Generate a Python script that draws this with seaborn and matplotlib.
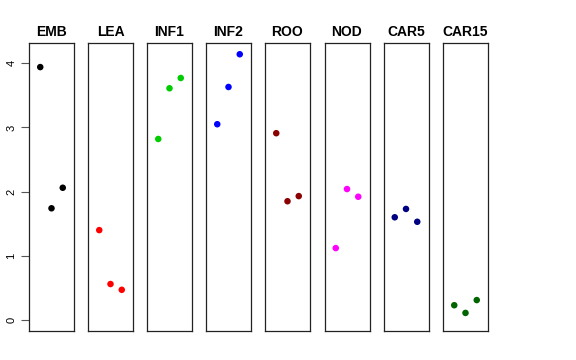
import numpy as np
import pandas as pd
import seaborn as sns
import matplotlib
matplotlib.use("Agg")
import matplotlib.pyplot as plt

sns.set_style("white")
plt.rcParams['font.family'] = ['Liberation Sans', 'DejaVu Sans']

# tissue groups and their three replicate values
groups = ["EMB", "LEA", "INF1", "INF2", "ROO", "NOD", "CAR5", "CAR15"]
emb = [3.94, 1.74, 2.06]
lea = [1.40, 0.56, 0.47]
inf1 = [2.82, 3.61, 3.77]
inf2 = [3.05, 3.63, 4.14]
roo = [2.91, 1.85, 1.93]
nod = [1.12, 2.04, 1.92]
car5 = [1.60, 1.73, 1.53]
car15 = [0.23, 0.11, 0.31]
colors = ["black", "red", "#00CD00", "blue", "#8B0000", "magenta", "#000080", "#006400"]

values = [emb, lea, inf1, inf2, roo, nod, car5, car15]
rows = []
for g, vals in zip(groups, values):
    for i, v in enumerate(vals):
        rows.append({"group": g, "rep": i + 1, "value": v})
df = pd.DataFrame(rows)

fig = plt.figure(figsize=(5.76, 3.6), dpi=100)
lefts = [29, 88, 147, 206, 265, 324.5, 383.5, 443]
for k, g in enumerate(groups):
    ax = fig.add_axes([lefts[k] / 576, 29.3 / 360, 45 / 576, 288 / 360])
    sub = df[df["group"] == g]
    sns.scatterplot(data=sub, x="rep", y="value", color=colors[k], s=22,
                    edgecolor="none", ax=ax, legend=False)
    ax.set_xlim(0, 4)
    ax.set_ylim(-0.167, 4.32)
    ax.set_xticks([])
    ax.set_xlabel("")
    ax.set_ylabel("")
    for sp in ax.spines.values():
        sp.set_color("#222222")
        sp.set_linewidth(0.9)
    ax.set_title(g, fontsize=10, fontweight="bold", pad=5, color="black")
    if k == 0:
        ax.set_yticks([0, 1, 2, 3, 4])
        ax.set_yticklabels(["0", "1", "2", "3", "4"], rotation=90, va="center", fontsize=8)
        ax.tick_params(axis="y", left=True, length=6, width=0.8, color="#555555",
                       labelcolor="black", pad=3)
    else:
        ax.set_yticks([])

fig.savefig("out.png", dpi=100)
